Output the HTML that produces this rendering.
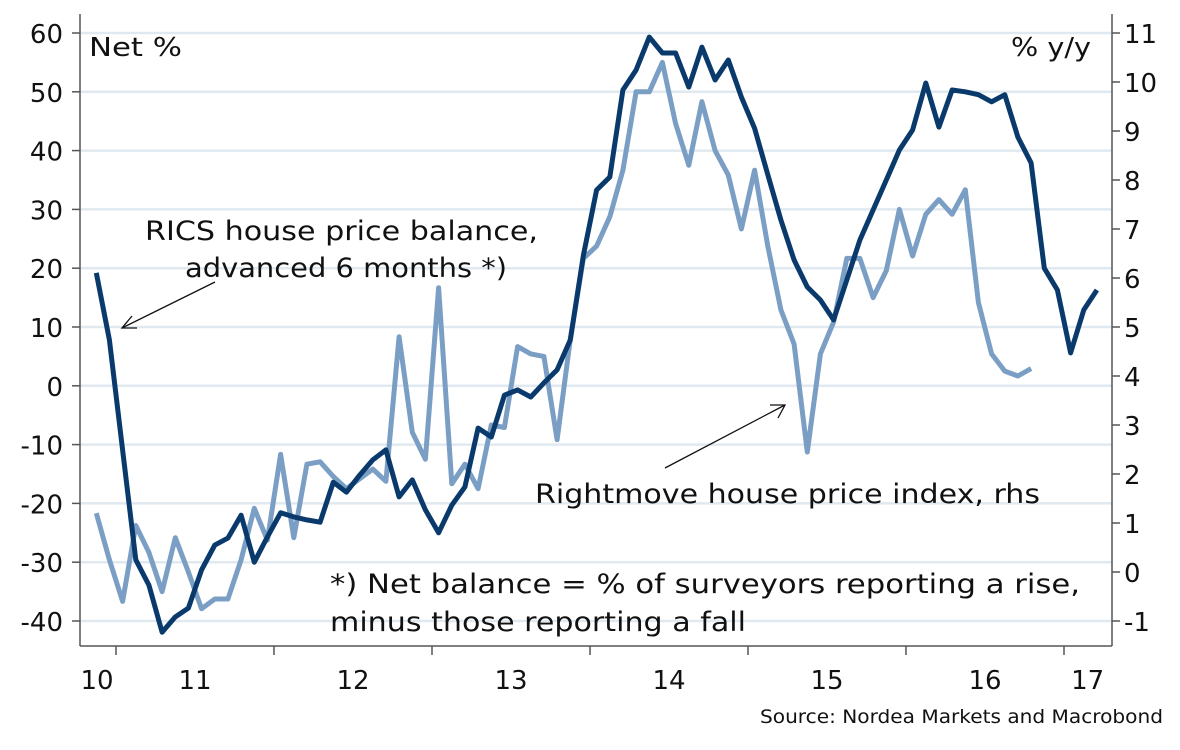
<!DOCTYPE html>
<html><head><meta charset="utf-8"><style>
body{margin:0;background:#fff;}
svg text{font-family:"DejaVu Sans","Liberation Sans",sans-serif;fill:#111;}
</style></head><body>
<svg width="1180" height="745" viewBox="0 0 1180 745">
<g id="grid"></g><g id="axes"></g><g id="lines"></g>
<text x="89" y="56" font-size="26" textLength="93" lengthAdjust="spacingAndGlyphs">Net %</text>
<text x="1011" y="56" font-size="26" textLength="80" lengthAdjust="spacingAndGlyphs">% y/y</text>
<text x="145" y="240" font-size="27" textLength="393" lengthAdjust="spacingAndGlyphs">RICS house price balance,</text>
<text x="185" y="277" font-size="27" textLength="322" lengthAdjust="spacingAndGlyphs">advanced 6 months *)</text>
<line x1="215" y1="282" x2="122" y2="328" stroke="#111" stroke-width="1.3"/>
<polyline points="132,316 122,328 137,328" fill="none" stroke="#111" stroke-width="1.3"/>
<text x="535" y="503" font-size="27" textLength="505" lengthAdjust="spacingAndGlyphs">Rightmove house price index, rhs</text>
<line x1="665" y1="468" x2="785" y2="405" stroke="#111" stroke-width="1.3"/>
<polyline points="770,405 785,405 778,418" fill="none" stroke="#111" stroke-width="1.3"/>
<text x="330" y="593" font-size="27" textLength="750" lengthAdjust="spacingAndGlyphs">*) Net balance = % of surveyors reporting a rise,</text>
<text x="330" y="631" font-size="27" textLength="416" lengthAdjust="spacingAndGlyphs">minus those reporting a fall</text>
<text x="760" y="723" font-size="19" textLength="403" lengthAdjust="spacingAndGlyphs">Source: Nordea Markets and Macrobond</text>
</svg>
<script>
const leftTicks=[60,50,40,30,20,10,0,-10,-20,-30,-40];
const rightTicks=[11,10,9,8,7,6,5,4,3,2,1,0,-1];
const yearLabels=["10","11","12","13","14","15","16","17"];
const yearLabelPos=[2010.88,2011.5,2012.5,2013.5,2014.5,2015.5,2016.5,2017.15];
const yearTicks=[2011,2012,2013,2014,2015,2016,2017];
const ricsStart=2010.875;
const ricsValues=[19.2,7.8,-10.9,-29.6,-33.9,-41.9,-39.3,-37.8,-31.3,-27.1,-25.9,-22.0,-30.0,-25.7,-21.6,-22.3,-22.8,-23.2,-16.4,-18.1,-15.2,-12.6,-10.9,-18.9,-16.0,-21.1,-25.0,-20.3,-17.2,-7.2,-8.7,-1.6,-0.7,-1.9,0.5,2.7,7.8,22.2,33.3,35.5,50.3,53.7,59.3,56.6,56.6,50.8,57.6,52.0,55.4,49.1,43.8,35.9,28.2,21.4,16.8,14.6,11.2,18.0,24.8,29.9,35.0,40.1,43.5,51.5,44.0,50.3,50.0,49.5,48.3,49.5,42.3,37.9,20.0,16.3,5.6,12.9,16.3];
const rmStart=2010.875;
const rmValues=[1.2,0.25,-0.6,0.95,0.4,-0.4,0.7,0.0,-0.75,-0.55,-0.55,0.25,1.3,0.65,2.4,0.7,2.2,2.25,1.95,1.7,1.9,2.1,1.85,4.8,2.85,2.3,5.8,1.8,2.2,1.7,3.0,2.95,4.6,4.45,4.4,2.7,4.75,6.4,6.65,7.25,8.2,9.8,9.8,10.4,9.15,8.3,9.6,8.6,8.1,7.0,8.2,6.65,5.35,4.65,2.45,4.45,5.1,6.4,6.4,5.6,6.15,7.4,6.45,7.3,7.6,7.3,7.8,5.5,4.45,4.1,4.0,4.15];
const NS="http://www.w3.org/2000/svg";
const X0=80,X1=1112,YT=33,YB=621,AXB=646;
const xS=t=>116+(t-2011)*158;
const yL=v=>YT+(60-v)*(YB-YT)/100;
const yR=v=>YT+(11-v)*(YB-YT)/12;
function mk(tag,attrs,parent){const e=document.createElementNS(NS,tag);for(const k in attrs)e.setAttribute(k,attrs[k]);document.getElementById(parent).appendChild(e);return e;}
leftTicks.forEach(v=>{
 const g=mk('line',{x1:X0,x2:X1,y1:yL(v),y2:yL(v),stroke:'#e1e9f0','stroke-width':2.5},'grid');
 
 
 const t=mk('line',{x1:72,x2:X0,y1:yL(v),y2:yL(v),stroke:'#555','stroke-width':1.5},'axes');
 
 
 const l=mk('text',{x:63,y:yL(v)+10,'font-size':26,'text-anchor':'end'},'axes');l.textContent=v;
 
 
});
rightTicks.forEach(v=>{
 const t=mk('line',{x1:X1,x2:X1+8,y1:yR(v),y2:yR(v),stroke:'#555','stroke-width':1.5},'axes');
 
 
 const l=mk('text',{x:1124,y:yR(v)+10,'font-size':26},'axes');l.textContent=v;
 
 
});
[[X0,14,X0,AXB],[X1,14,X1,AXB],[X0,AXB,X1,AXB]].forEach(a=>{
 const e=mk('line',{x1:a[0],y1:a[1],x2:a[2],y2:a[3],stroke:'#555','stroke-width':1.5},'axes');
 
 
});
yearTicks.forEach(y=>{
 const e=mk('line',{x1:xS(y),x2:xS(y),y1:AXB,y2:AXB+9,stroke:'#555','stroke-width':1.5},'axes');
 
 
});
yearLabels.forEach((s,i)=>{
 const l=mk('text',{x:xS(yearLabelPos[i]),y:689,'font-size':26,'text-anchor':'middle'},'axes');l.textContent=s;
 
 
});
const rmPts=rmValues.map((v,i)=>xS(rmStart+i/12).toFixed(1)+','+yR(v).toFixed(1)).join(' ');
const rm=mk('polyline',{points:rmPts,fill:'none',stroke:'#7b9fc4','stroke-width':5,'stroke-linejoin':'round'},'lines');


const rcPts=ricsValues.map((v,i)=>xS(ricsStart+i/12).toFixed(1)+','+yL(v).toFixed(1)).join(' ');
const rc=mk('polyline',{points:rcPts,fill:'none',stroke:'#0a3a6c','stroke-width':5,'stroke-linejoin':'round'},'lines');


</script>
</body></html>
